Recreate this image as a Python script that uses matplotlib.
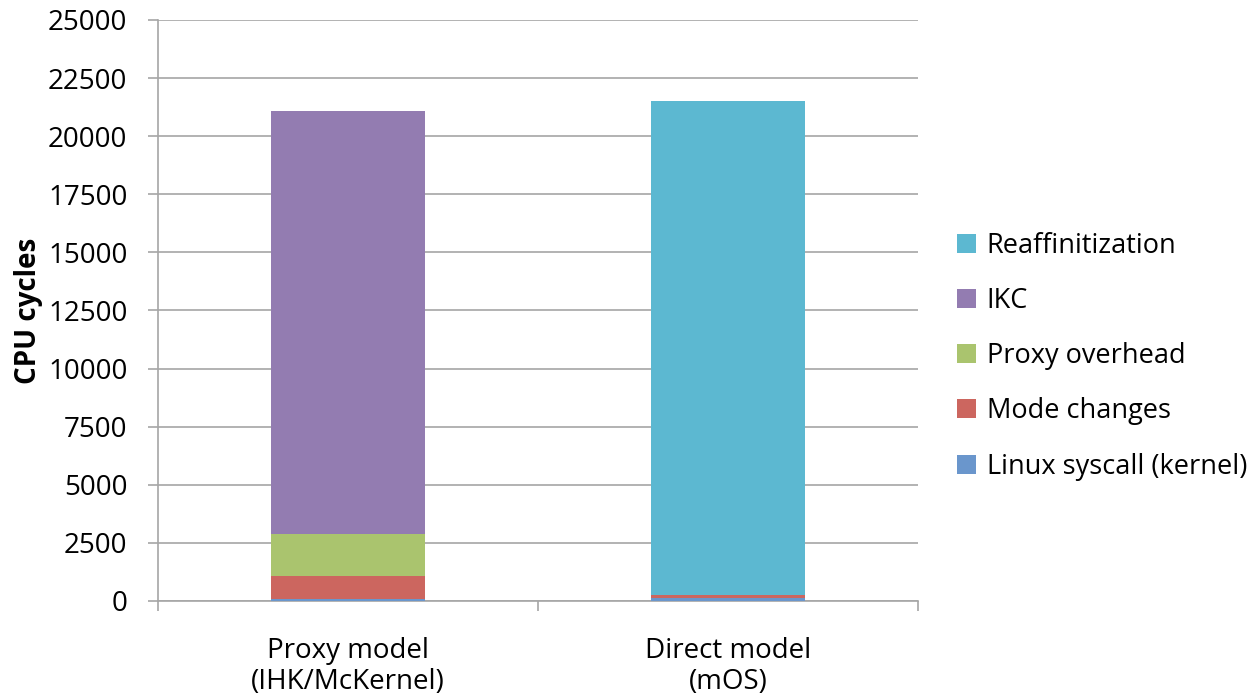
import matplotlib.pyplot as plt
import numpy as np

plt.rcParams['font.family'] = ['Open Sans', 'DejaVu Sans']

# Stacked cycle breakdown per model
models = ['Proxy model\n(IHK/McKernel)', 'Direct model\n(mOS)']
series = ['Linux syscall (kernel)', 'Mode changes', 'Proxy overhead', 'IKC', 'Reaffinitization']
linux_syscall = [100, 120]
mode_changes = [990, 130]
proxy_overhead = [1790, 0]
ikc = [18200, 0]
reaffinitization = [0, 21260]
colors = ['#6a96cc', '#cc665f', '#aac46e', '#937cb1', '#5cb8d1']

fig = plt.figure(figsize=(12.56, 6.96), dpi=100)
ax = fig.add_axes([0.1258, 0.1365, 0.6051, 0.8348])

x = np.arange(len(models))
bottom = np.zeros(len(models))
handles = []
for name, vals, c in zip(series, [linux_syscall, mode_changes, proxy_overhead, ikc, reaffinitization], colors):
    b = ax.bar(x, vals, 0.405, bottom=bottom, color=c, label=name, zorder=3)
    handles.append(b)
    bottom += np.array(vals)

ax.set_xlim(-0.5, 1.5)
ax.set_ylim(0, 25000)
ax.set_yticks(np.arange(0, 25001, 2500))
ax.yaxis.grid(True, color='#a6a6a6', linewidth=1.2, zorder=0)
ax.set_xticks(x)
ax.set_xticklabels(models, fontsize=20, linespacing=1.12)
ax.set_xticks([-0.5, 0.5, 1.5], minor=True)
ax.tick_params(axis='x', which='major', length=0, pad=26)
ax.tick_params(axis='x', which='minor', length=7, color='#a6a6a6', width=1.2)
ax.tick_params(axis='y', labelsize=20, length=7, color='#a6a6a6', width=1.2, direction='out', pad=15)
for s in ['top', 'right']:
    ax.spines[s].set_visible(False)
for s in ['left', 'bottom']:
    ax.spines[s].set_color('#a6a6a6')
    ax.spines[s].set_linewidth(1.2)
ax.set_ylabel('CPU cycles', fontsize=20, fontweight='bold', labelpad=4)

leg = fig.legend(handles[::-1], series[::-1], loc='center left', bbox_to_anchor=(0.762, 0.488),
                 frameon=False, fontsize=19.5, handlelength=0.7, handleheight=0.7,
                 handletextpad=0.4, labelspacing=1.0, borderpad=0, borderaxespad=0)

fig.savefig('out.png', dpi=100)
